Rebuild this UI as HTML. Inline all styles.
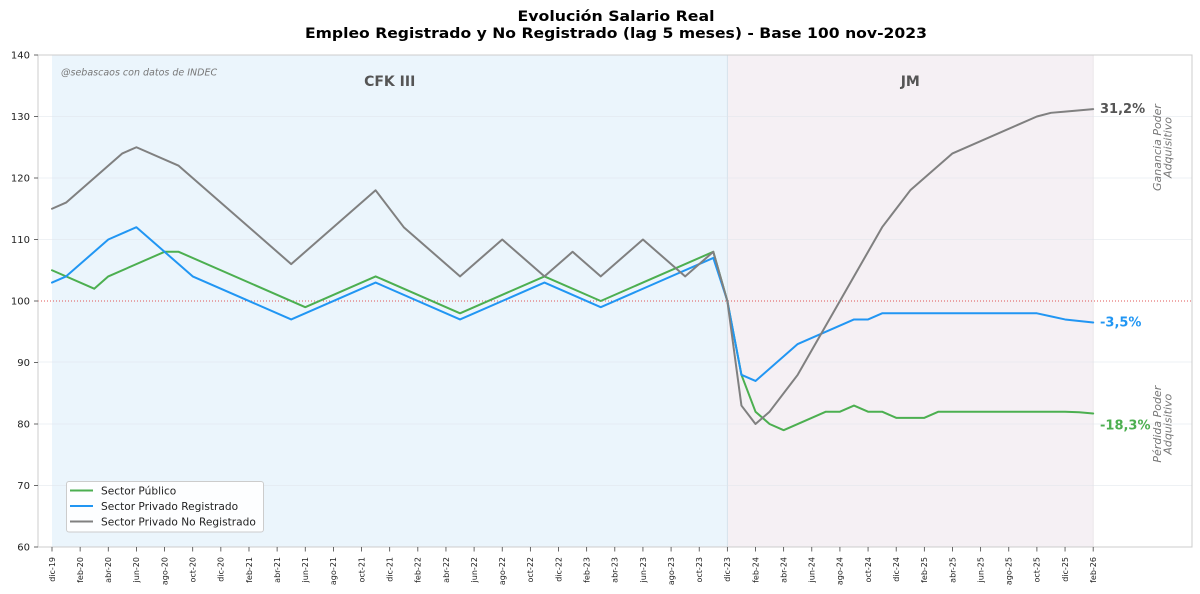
<!DOCTYPE html>
<html>
<head>
<meta charset="utf-8">
<style>
  html,body{margin:0;padding:0;background:#fff;}
  svg{display:block;}
  text{font-family:"DejaVu Sans","Liberation Sans",sans-serif;}
</style>
</head>
<body>
<svg width="1200" height="594" viewBox="0 0 1200 594" xmlns="http://www.w3.org/2000/svg">
  <rect x="0" y="0" width="1200" height="594" fill="#ffffff"/>

  <!-- Title -->
  <text x="616" y="21" text-anchor="middle" font-size="14" font-weight="bold" fill="#000" textLength="197" lengthAdjust="spacingAndGlyphs">Evolución Salario Real</text>
  <text x="616" y="38" text-anchor="middle" font-size="14" font-weight="bold" fill="#000" textLength="622" lengthAdjust="spacingAndGlyphs">Empleo Registrado y No Registrado (lag 5 meses) - Base 100 nov-2023</text>

  <!-- Plot background shading -->
  <rect x="38" y="55" width="1154" height="492" fill="#ffffff"/>
  <rect x="52" y="55" width="675.4" height="492" fill="#ebf5fc"/>
  <rect x="727.4" y="55" width="365.8" height="492" fill="#f5f0f4"/>
  <line x1="727.4" y1="55" x2="727.4" y2="547" stroke="#d6e2ec" stroke-width="1"/>
  <line x1="1093.2" y1="55" x2="1093.2" y2="547" stroke="#ebe6ea" stroke-width="1"/>

  <!-- Gridlines -->
  <g stroke="#dfe5ea" stroke-width="0.8" opacity="0.7">
    <line x1="38" y1="116.5" x2="1192" y2="116.5"/>
    <line x1="38" y1="178" x2="1192" y2="178"/>
    <line x1="38" y1="239.5" x2="1192" y2="239.5"/>
    <line x1="38" y1="362" x2="1192" y2="362"/>
    <line x1="38" y1="424" x2="1192" y2="424"/>
    <line x1="38" y1="485.5" x2="1192" y2="485.5"/>
  </g>

  <!-- Base 100 dotted line -->
  <line x1="38" y1="301" x2="1192" y2="301" stroke="#e05555" stroke-width="1" stroke-dasharray="1,2"/>

  <!-- Region labels -->
  <text x="389.7" y="86" text-anchor="middle" font-size="14" font-weight="bold" fill="#555">CFK III</text>
  <text x="910.3" y="86" text-anchor="middle" font-size="14" font-weight="bold" fill="#555">JM</text>

  <!-- Watermark -->
  <text x="61" y="75.5" font-size="9.5" font-style="italic" fill="#777">@sebascaos con datos de INDEC</text>

  <!-- Series -->
  <g fill="none" stroke-width="2" stroke-linejoin="round" stroke-linecap="round">
    <polyline stroke="#4caf50" points="52,270.25 94.21,288.7 108.28,276.4 164.56,251.8 178.63,251.8 305.26,307.15 375.61,276.4 460.03,313.3 544.45,276.4 600.73,301 713.29,251.8 727.36,301 741.43,374.8 755.5,411.7 769.57,424 783.64,430.15 825.85,411.7 839.92,411.7 853.99,405.55 868.06,411.7 882.13,411.7 896.2,417.85 924.34,417.85 938.41,411.7 1065.04,411.7 1079.11,412.3 1093.18,413.55"/>
    <polyline stroke="#2196f3" points="52,282.55 66.07,276.4 108.28,239.5 136.42,227.2 192.7,276.4 291.19,319.45 375.61,282.55 460.03,319.45 544.45,282.55 600.73,307.15 713.29,257.95 727.36,301 741.43,374.8 755.5,380.95 797.71,344.05 853.99,319.45 868.06,319.45 882.13,313.3 1036.9,313.3 1050.97,316.4 1065.04,319.45 1079.11,321 1093.18,322.5"/>
    <polyline stroke="#808080" points="52,208.75 66.07,202.6 122.35,153.4 136.42,147.25 178.63,165.7 291.19,264.1 375.61,190.3 403.75,227.2 460.03,276.4 502.24,239.5 544.45,276.4 572.59,251.8 600.73,276.4 642.94,239.5 685.15,276.4 713.29,251.8 727.36,301 741.43,405.55 755.5,424 769.57,411.7 797.71,374.8 882.13,227.2 910.27,190.3 952.48,153.4 1036.9,116.5 1050.97,112.81 1065.04,111.58 1079.11,110.35 1093.18,109.12"/>
  </g>

  <!-- End labels -->
  <text x="1100" y="113" font-size="13" font-weight="bold" fill="#555">31,2%</text>
  <text x="1100" y="326.7" font-size="13" font-weight="bold" fill="#2196f3">-3,5%</text>
  <text x="1100" y="429.7" font-size="13" font-weight="bold" fill="#4caf50">-18,3%</text>

  <!-- Rotated annotations -->
  <g font-size="11" font-style="italic" fill="#777" text-anchor="middle">
    <text transform="translate(1161,147.5) rotate(-90)">Ganancia Poder</text>
    <text transform="translate(1171.5,147.5) rotate(-90)">Adquisitivo</text>
    <text transform="translate(1161,424.2) rotate(-90)">Pérdida Poder</text>
    <text transform="translate(1171.5,424.2) rotate(-90)">Adquisitivo</text>
  </g>

  <!-- Legend -->
  <rect x="66.5" y="481.5" width="197" height="50.5" rx="2.5" fill="#ffffff" fill-opacity="0.9" stroke="#cccccc" stroke-width="1"/>
  <line x1="70" y1="490.5" x2="93" y2="490.5" stroke="#4caf50" stroke-width="2"/>
  <line x1="70" y1="506" x2="93" y2="506" stroke="#2196f3" stroke-width="2"/>
  <line x1="70" y1="521.5" x2="93" y2="521.5" stroke="#808080" stroke-width="2"/>
  <g font-size="10.6" fill="#222">
    <text x="101" y="494.3">Sector Público</text>
    <text x="101" y="509.8">Sector Privado Registrado</text>
    <text x="101" y="525.3">Sector Privado No Registrado</text>
  </g>

  <!-- Spines -->
  <rect x="38" y="55" width="1154" height="492" fill="none" stroke="#cccccc" stroke-width="1"/>

  <!-- Y ticks -->
  <g stroke="#444" stroke-width="0.8">
    <line x1="34" y1="55" x2="38" y2="55"/>
    <line x1="34" y1="116.5" x2="38" y2="116.5"/>
    <line x1="34" y1="178" x2="38" y2="178"/>
    <line x1="34" y1="239.5" x2="38" y2="239.5"/>
    <line x1="34" y1="301" x2="38" y2="301"/>
    <line x1="34" y1="362.5" x2="38" y2="362.5"/>
    <line x1="34" y1="424" x2="38" y2="424"/>
    <line x1="34" y1="485.5" x2="38" y2="485.5"/>
    <line x1="34" y1="547" x2="38" y2="547"/>
  </g>
  <g font-size="10" fill="#222" text-anchor="end">
    <text x="30" y="58.6">140</text>
    <text x="30" y="120.1">130</text>
    <text x="30" y="181.6">120</text>
    <text x="30" y="243.1">110</text>
    <text x="30" y="304.6">100</text>
    <text x="30" y="366.1">90</text>
    <text x="30" y="427.6">80</text>
    <text x="30" y="489.1">70</text>
    <text x="30" y="550.6">60</text>
  </g>

  <!-- X ticks -->
  <g stroke="#444" stroke-width="0.8">
    <line x1="52" y1="547" x2="52" y2="551.5"/>
    <line x1="80.14" y1="547" x2="80.14" y2="551.5"/>
    <line x1="108.28" y1="547" x2="108.28" y2="551.5"/>
    <line x1="136.42" y1="547" x2="136.42" y2="551.5"/>
    <line x1="164.56" y1="547" x2="164.56" y2="551.5"/>
    <line x1="192.7" y1="547" x2="192.7" y2="551.5"/>
    <line x1="220.84" y1="547" x2="220.84" y2="551.5"/>
    <line x1="248.98" y1="547" x2="248.98" y2="551.5"/>
    <line x1="277.12" y1="547" x2="277.12" y2="551.5"/>
    <line x1="305.26" y1="547" x2="305.26" y2="551.5"/>
    <line x1="333.4" y1="547" x2="333.4" y2="551.5"/>
    <line x1="361.54" y1="547" x2="361.54" y2="551.5"/>
    <line x1="389.68" y1="547" x2="389.68" y2="551.5"/>
    <line x1="417.82" y1="547" x2="417.82" y2="551.5"/>
    <line x1="445.96" y1="547" x2="445.96" y2="551.5"/>
    <line x1="474.1" y1="547" x2="474.1" y2="551.5"/>
    <line x1="502.24" y1="547" x2="502.24" y2="551.5"/>
    <line x1="530.38" y1="547" x2="530.38" y2="551.5"/>
    <line x1="558.52" y1="547" x2="558.52" y2="551.5"/>
    <line x1="586.66" y1="547" x2="586.66" y2="551.5"/>
    <line x1="614.8" y1="547" x2="614.8" y2="551.5"/>
    <line x1="642.94" y1="547" x2="642.94" y2="551.5"/>
    <line x1="671.08" y1="547" x2="671.08" y2="551.5"/>
    <line x1="699.22" y1="547" x2="699.22" y2="551.5"/>
    <line x1="727.36" y1="547" x2="727.36" y2="551.5"/>
    <line x1="755.5" y1="547" x2="755.5" y2="551.5"/>
    <line x1="783.64" y1="547" x2="783.64" y2="551.5"/>
    <line x1="811.78" y1="547" x2="811.78" y2="551.5"/>
    <line x1="839.92" y1="547" x2="839.92" y2="551.5"/>
    <line x1="868.06" y1="547" x2="868.06" y2="551.5"/>
    <line x1="896.2" y1="547" x2="896.2" y2="551.5"/>
    <line x1="924.34" y1="547" x2="924.34" y2="551.5"/>
    <line x1="952.48" y1="547" x2="952.48" y2="551.5"/>
    <line x1="980.62" y1="547" x2="980.62" y2="551.5"/>
    <line x1="1008.76" y1="547" x2="1008.76" y2="551.5"/>
    <line x1="1036.9" y1="547" x2="1036.9" y2="551.5"/>
    <line x1="1065.04" y1="547" x2="1065.04" y2="551.5"/>
    <line x1="1093.18" y1="547" x2="1093.18" y2="551.5"/>
  </g>
  <g font-size="8" fill="#222" text-anchor="end">
    <text transform="translate(52,557) rotate(-90)" dy="0.35em">dic-19</text>
    <text transform="translate(80.14,557) rotate(-90)" dy="0.35em">feb-20</text>
    <text transform="translate(108.28,557) rotate(-90)" dy="0.35em">abr-20</text>
    <text transform="translate(136.42,557) rotate(-90)" dy="0.35em">jun-20</text>
    <text transform="translate(164.56,557) rotate(-90)" dy="0.35em">ago-20</text>
    <text transform="translate(192.7,557) rotate(-90)" dy="0.35em">oct-20</text>
    <text transform="translate(220.84,557) rotate(-90)" dy="0.35em">dic-20</text>
    <text transform="translate(248.98,557) rotate(-90)" dy="0.35em">feb-21</text>
    <text transform="translate(277.12,557) rotate(-90)" dy="0.35em">abr-21</text>
    <text transform="translate(305.26,557) rotate(-90)" dy="0.35em">jun-21</text>
    <text transform="translate(333.4,557) rotate(-90)" dy="0.35em">ago-21</text>
    <text transform="translate(361.54,557) rotate(-90)" dy="0.35em">oct-21</text>
    <text transform="translate(389.68,557) rotate(-90)" dy="0.35em">dic-21</text>
    <text transform="translate(417.82,557) rotate(-90)" dy="0.35em">feb-22</text>
    <text transform="translate(445.96,557) rotate(-90)" dy="0.35em">abr-22</text>
    <text transform="translate(474.1,557) rotate(-90)" dy="0.35em">jun-22</text>
    <text transform="translate(502.24,557) rotate(-90)" dy="0.35em">ago-22</text>
    <text transform="translate(530.38,557) rotate(-90)" dy="0.35em">oct-22</text>
    <text transform="translate(558.52,557) rotate(-90)" dy="0.35em">dic-22</text>
    <text transform="translate(586.66,557) rotate(-90)" dy="0.35em">feb-23</text>
    <text transform="translate(614.8,557) rotate(-90)" dy="0.35em">abr-23</text>
    <text transform="translate(642.94,557) rotate(-90)" dy="0.35em">jun-23</text>
    <text transform="translate(671.08,557) rotate(-90)" dy="0.35em">ago-23</text>
    <text transform="translate(699.22,557) rotate(-90)" dy="0.35em">oct-23</text>
    <text transform="translate(727.36,557) rotate(-90)" dy="0.35em">dic-23</text>
    <text transform="translate(755.5,557) rotate(-90)" dy="0.35em">feb-24</text>
    <text transform="translate(783.64,557) rotate(-90)" dy="0.35em">abr-24</text>
    <text transform="translate(811.78,557) rotate(-90)" dy="0.35em">jun-24</text>
    <text transform="translate(839.92,557) rotate(-90)" dy="0.35em">ago-24</text>
    <text transform="translate(868.06,557) rotate(-90)" dy="0.35em">oct-24</text>
    <text transform="translate(896.2,557) rotate(-90)" dy="0.35em">dic-24</text>
    <text transform="translate(924.34,557) rotate(-90)" dy="0.35em">feb-25</text>
    <text transform="translate(952.48,557) rotate(-90)" dy="0.35em">abr-25</text>
    <text transform="translate(980.62,557) rotate(-90)" dy="0.35em">jun-25</text>
    <text transform="translate(1008.76,557) rotate(-90)" dy="0.35em">ago-25</text>
    <text transform="translate(1036.9,557) rotate(-90)" dy="0.35em">oct-25</text>
    <text transform="translate(1065.04,557) rotate(-90)" dy="0.35em">dic-25</text>
    <text transform="translate(1093.18,557) rotate(-90)" dy="0.35em">feb-26</text>
  </g>
</svg>
</body>
</html>
